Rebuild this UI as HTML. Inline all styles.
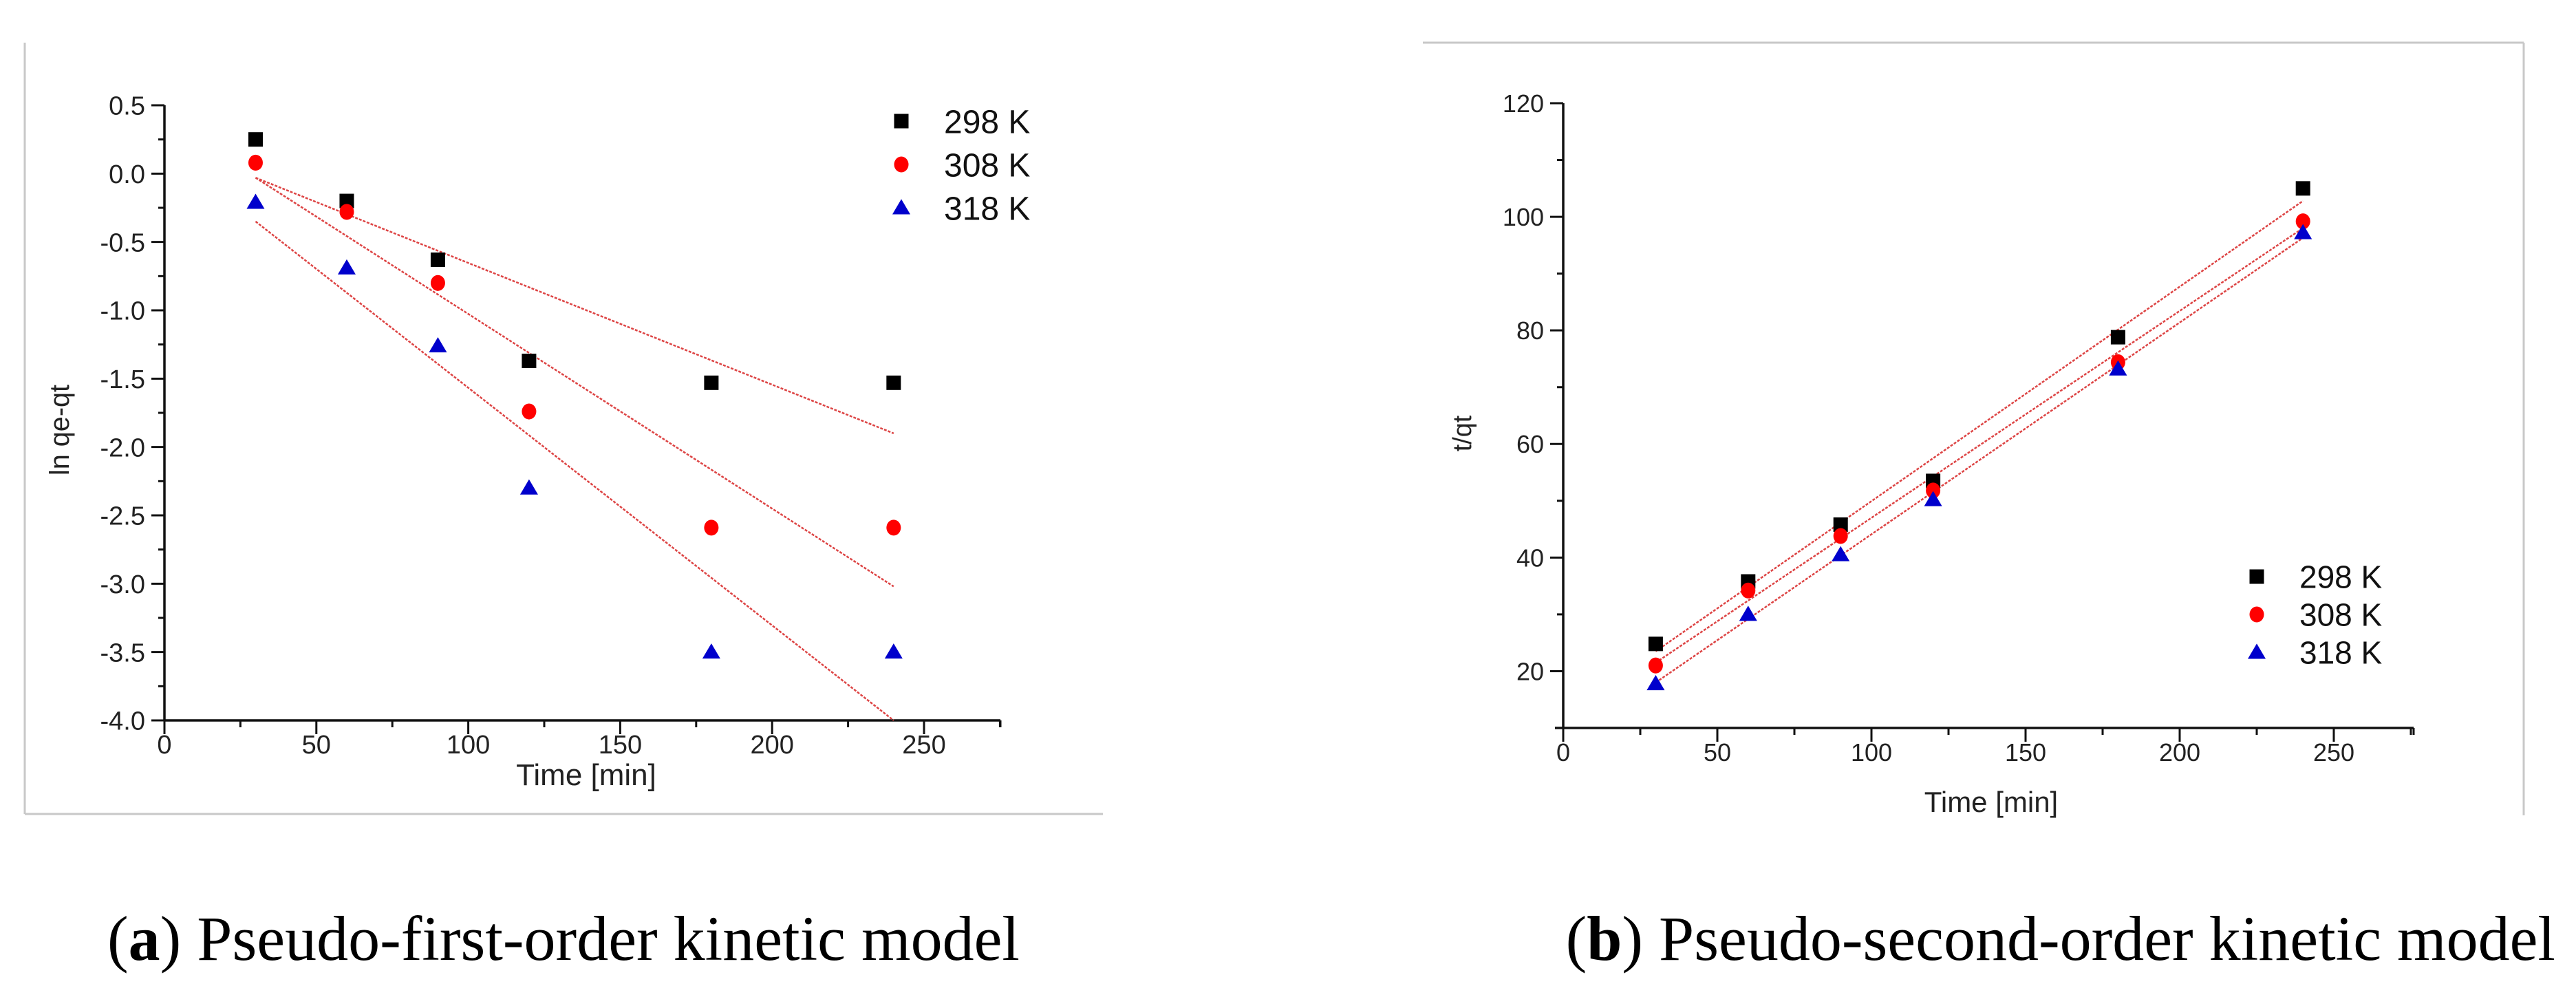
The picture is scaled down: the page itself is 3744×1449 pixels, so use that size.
<!DOCTYPE html>
<html><head><meta charset="utf-8">
<style>
html,body{margin:0;padding:0;background:#fff;}
svg{display:block;}
text{font-family:"Liberation Sans",Arial,sans-serif;}
.cap{font-family:"Liberation Serif",serif;}
</style></head>
<body>
<svg id="fig" width="3744" height="1449" viewBox="0 0 3744 1449" xmlns="http://www.w3.org/2000/svg">
  <g>
    <line x1="36" y1="62" x2="36" y2="1183" stroke="#c8c8c8" stroke-width="3"/>
    <line x1="36" y1="1183" x2="1603" y2="1183" stroke="#c8c8c8" stroke-width="3"/>
  </g>
  <g>
    <line x1="2068" y1="62" x2="3668" y2="62" stroke="#c8c8c8" stroke-width="3"/>
    <line x1="3668" y1="62" x2="3668" y2="1185" stroke="#c8c8c8" stroke-width="3"/>
  </g>
  <g id="chartA"></g>
  <g id="chartB"></g>
  <text class="cap" x="156" y="1395" font-size="92" fill="#000">(<tspan font-weight="bold">a</tspan>) Pseudo-first-order kinetic model</text>
  <text class="cap" x="3714" y="1395" font-size="92" fill="#000" text-anchor="end">(<tspan font-weight="bold">b</tspan>) Pseudo-second-order kinetic model</text>
</svg>
<script>
const timesA = [30, 60, 90, 120, 180, 240];
const a298 = [0.25, -0.2, -0.63, -1.37, -1.53, -1.53];
const a308 = [0.08, -0.28, -0.8, -1.74, -2.59, -2.59];
const a318 = [-0.21, -0.69, -1.26, -2.3, -3.5, -3.5];
const fitA298 = [-0.03, -1.9];
const fitA308 = [-0.03, -3.02];
const fitA318 = [-0.35, -4.0];
const yTicksA = [0.5, 0.0, -0.5, -1.0, -1.5, -2.0, -2.5, -3.0, -3.5, -4.0];
const xTicks = [0, 50, 100, 150, 200, 250];

const timesB = [30, 60, 90, 120, 180, 240];
const b298 = [24.8, 35.8, 45.8, 53.5, 78.8, 105];
const b308 = [21, 34.2, 43.8, 51.8, 74.4, 99.2];
const b318 = [17.8, 30, 40.5, 50.2, 73.2, 97.2];
const fitB298 = [23.5, 102.8];
const fitB308 = [21.5, 98];
const fitB318 = [18, 96.3];
const yTicksB = [20, 40, 60, 80, 100, 120];
const seriesNames = ['298 K', '308 K', '318 K'];

const NS = 'http://www.w3.org/2000/svg';
function mk(parent, tag, attrs, txt) {
  const e = document.createElementNS(NS, tag);
  for (const k in attrs) e.setAttribute(k, attrs[k]);
  if (txt !== undefined) e.textContent = txt;
  parent.appendChild(e);
  return e;
}
function marker(g, kind, cx, cy, s) {
  let e;
  if (kind === 0) e = mk(g, 'rect', {x: cx - s/2, y: cy - s/2, width: s, height: s, fill: '#000'});
  else if (kind === 1) e = mk(g, 'ellipse', {cx: cx, cy: cy, rx: s/2, ry: s*0.55, fill: '#ff0000'});
  else e = mk(g, 'polygon', {points: `${cx},${cy - s*0.6} ${cx - s*0.62},${cy + s*0.45} ${cx + s*0.62},${cy + s*0.45}`, fill: '#0000cc'});
  return e;
}
function drawChart(g, cfg) {
  const X = v => cfg.x0 + (v - cfg.xmin) / (cfg.xmax - cfg.xmin) * (cfg.x1 - cfg.x0);
  const Y = v => cfg.yb + (v - cfg.ymin) / (cfg.ymax - cfg.ymin) * (cfg.yt - cfg.yb);
  // axes
  let ax = mk(g, 'line', {x1: X(0), y1: cfg.yt, x2: X(0), y2: cfg.yb + 1.5, stroke: '#111', 'stroke-width': 3.5});
  
  
  let bx = mk(g, 'line', {x1: X(0) - cfg.axExt, y1: cfg.yb, x2: cfg.xend, y2: cfg.yb, stroke: '#111', 'stroke-width': 3.5});
  
  
  mk(g, 'line', {x1: cfg.xend, y1: cfg.yb, x2: cfg.xend, y2: cfg.yb + 10, stroke: '#111', 'stroke-width': 3});
  // x ticks
  for (let i = 0; i < cfg.xTicks.length; i++) {
    const v = cfg.xTicks[i];
    mk(g, 'line', {x1: X(v), y1: cfg.yb, x2: X(v), y2: cfg.yb + 20, stroke: '#111', 'stroke-width': 3});
    const mv = v + 25;
    if (X(mv) < cfg.xend) mk(g, 'line', {x1: X(mv), y1: cfg.yb, x2: X(mv), y2: cfg.yb + 10, stroke: '#111', 'stroke-width': 3});
    const t = mk(g, 'text', {x: X(v), y: cfg.yb + 48, 'font-size': cfg.fs, 'text-anchor': 'middle', fill: '#222'}, String(v));
    
    
  }
  // y ticks
  for (let i = 0; i < cfg.yTicks.length; i++) {
    const v = cfg.yTicks[i];
    mk(g, 'line', {x1: X(0) - 19, y1: Y(v), x2: X(0), y2: Y(v), stroke: '#111', 'stroke-width': 3});
    const mv = v + cfg.minor;
    if (mv >= cfg.ymin && mv < cfg.ymax) mk(g, 'line', {x1: X(0) - 9, y1: Y(mv), x2: X(0), y2: Y(mv), stroke: '#111', 'stroke-width': 3});
    const t = mk(g, 'text', {x: X(0) - 28, y: Y(v) + cfg.fs * 0.36, 'font-size': cfg.fs, 'text-anchor': 'end', fill: '#222'}, cfg.fmt(v));
    
    
  }
  // titles
  let xt = mk(g, 'text', {x: cfg.xtX, y: cfg.xtY, 'font-size': cfg.tfs, 'text-anchor': 'middle', fill: '#222'}, 'Time [min]');
  
  
  let yt = mk(g, 'text', {x: 0, y: 0, 'font-size': cfg.tfs * 0.9, 'text-anchor': 'middle', fill: '#222', transform: `translate(${cfg.ytX},${cfg.ytY}) rotate(-90)`}, cfg.ytitle);
  
  
  // fit lines
  for (let s = 0; s < 3; s++) {
    const f = cfg.fits[s];
    const l = mk(g, 'line', {x1: X(cfg.times[0]), y1: Y(f[0]), x2: X(cfg.times[cfg.times.length - 1]), y2: Y(f[1]), stroke: '#d44', 'stroke-width': 2.5, 'stroke-dasharray': '4 2'});
    
    
  }
  // points
  for (let s = 0; s < 3; s++) {
    const sg = mk(g, 'g', {});
    
    
    for (let i = 0; i < cfg.times.length; i++) {
      const m = marker(sg, s, X(cfg.times[i]), Y(cfg.series[s][i]), 21);
      
      
    }
  }
  // legend
  const lg = mk(g, 'g', {});
  
  
  for (let s = 0; s < 3; s++) {
    const yy = cfg.legY + s * cfg.legDy;
    marker(lg, s, cfg.legX, yy, 21);
    const t = mk(lg, 'text', {x: cfg.legX + 62, y: yy + cfg.lfs * 0.36, 'font-size': cfg.lfs, fill: '#111'}, seriesNames[s]);
    
    
  }
}
drawChart(document.getElementById('chartA'), {
  x0: 239, x1: 1343, xmin: 0, xmax: 250, xend: 1454, axExt: 0,
  yb: 1047, yt: 153, ymin: -4.0, ymax: 0.5, minor: -0.25,
  xTicks: xTicks, yTicks: yTicksA, fmt: v => v.toFixed(1), fs: 38, tfs: 44, lfs: 48,
  times: timesA, series: [a298, a308, a318], fits: [fitA298, fitA308, fitA318],
  xtX: 852, xtY: 1141, ytX: 100, ytY: 625, ytitle: 'ln qe-qt',
  legX: 1310, legY: 176, legDy: 63
});
drawChart(document.getElementById('chartB'), {
  x0: 2272, x1: 3392, xmin: 0, xmax: 250, xend: 3508, axExt: 12,
  yb: 1058, yt: 150, ymin: 10, ymax: 120, minor: 10,
  xTicks: xTicks, yTicks: yTicksB, fmt: v => String(v), fs: 36, tfs: 42, lfs: 46,
  times: timesB, series: [b298, b308, b318], fits: [fitB298, fitB308, fitB318],
  xtX: 2894, xtY: 1180, ytX: 2138, ytY: 630, ytitle: 't/qt',
  legX: 3280, legY: 838, legDy: 55
});
</script>
</body></html>
